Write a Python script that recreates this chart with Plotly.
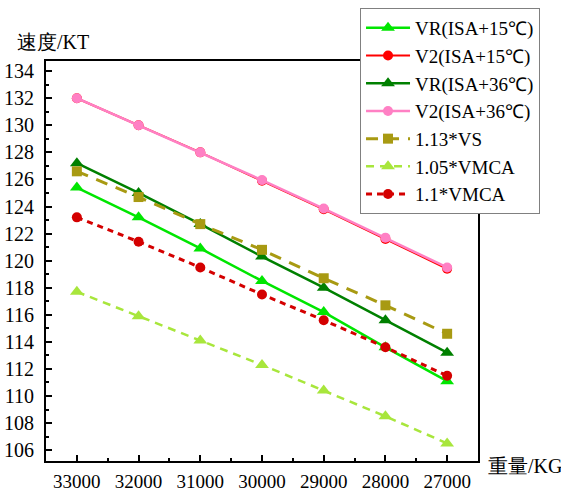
import plotly.graph_objects as go

weights = ["33000", "32000", "31000", "30000", "29000", "28000", "27000"]
vr_15 = [125.4, 123.2, 120.9, 118.5, 116.2, 113.6, 111.1]
v2_15 = [132.0, 130.0, 128.0, 125.9, 123.8, 121.6, 119.4]
vr_36 = [127.2, 125.0, 122.7, 120.3, 118.0, 115.6, 113.2]
v2_36 = [132.0, 130.0, 128.0, 125.95, 123.85, 121.7, 119.5]
vs_113 = [126.6, 124.7, 122.7, 120.8, 118.7, 116.7, 114.6]
vmca_105 = [117.7, 115.9, 114.1, 112.3, 110.4, 108.5, 106.5]
vmca_11 = [123.2, 121.4, 119.5, 117.5, 115.6, 113.6, 111.5]
y_ticks = list(range(106, 135, 2))

xs = list(range(len(weights)))
FONT = "Liberation Serif"

series = [
    ("VR(ISA+15℃)", vr_15, "#00e600", "solid", 2.5, "triangle-up", 12),
    ("V2(ISA+15℃)", v2_15, "#ff0000", "solid", 2, "circle", 10),
    ("VR(ISA+36℃)", vr_36, "#008000", "solid", 2.5, "triangle-up", 12),
    ("V2(ISA+36℃)", v2_36, "#ff80c4", "solid", 2.5, "circle", 10),
    ("1.13*VS", vs_113, "#a89a12", "12px,9px", 3, "square", 10),
    ("1.05*VMCA", vmca_105, "#a8e63c", "8px,6px", 2.5, "triangle-up", 12),
    ("1.1*VMCA", vmca_11, "#d40000", "6px,5px", 3, "circle", 10),
]

fig = go.Figure()
for name, vals, color, dash, lw, sym, ms in series:
    fig.add_trace(go.Scatter(
        x=xs, y=vals, name=name, mode="lines+markers",
        line=dict(color=color, width=lw, dash=dash),
        marker=dict(symbol=sym, size=ms, color=color),
    ))

fig.update_layout(
    width=561, height=496,
    margin=dict(l=46, r=83, t=61, b=35, autoexpand=False),
    plot_bgcolor="white", paper_bgcolor="white",
    font=dict(family=FONT, size=20, color="black"),
    showlegend=True,
    legend=dict(
        x=0.7269, y=1.1325, xanchor="left", yanchor="top",
        bordercolor="#808080", borderwidth=1, bgcolor="white",
        font=dict(family=FONT, size=19), tracegroupgap=0, itemwidth=44,
    ),
    xaxis=dict(
        range=[-0.5, 6.5], tickmode="array", tickvals=xs, ticktext=weights,
        showgrid=False, zeroline=False, showline=True, linecolor="black",
        linewidth=2, mirror=True, ticks="inside", ticklen=6, tickwidth=2,
        tickcolor="black", tickfont=dict(family=FONT, size=19), automargin=False,
        ticklabelstandoff=2,
        minor=dict(ticks="inside", ticklen=3, tickwidth=2, tickcolor="black",
                   dtick=0.5, tick0=-0.5),
    ),
    yaxis=dict(
        range=[105.2, 134.75], tickmode="array", tickvals=y_ticks,
        showgrid=False, zeroline=False, showline=True, linecolor="black",
        linewidth=2, mirror=True, ticks="inside", ticklen=6, tickwidth=2,
        tickcolor="black", tickfont=dict(family=FONT, size=20), automargin=False,
        ticklabelstandoff=6,
        minor=dict(ticks="inside", ticklen=3, tickwidth=2, tickcolor="black",
                   dtick=1, tick0=105),
    ),
    annotations=[
        dict(text="速度/KT", xref="paper", yref="paper", x=-0.0718, y=1.0475,
             xanchor="left", yanchor="middle", showarrow=False,
             font=dict(family=FONT, size=20)),
        dict(text="重量/KG", xref="paper", yref="paper", x=1.0185, y=-0.0125,
             xanchor="left", yanchor="middle", showarrow=False,
             font=dict(family=FONT, size=20)),
    ],
)

fig.write_html("out.html", config={"displayModeBar": False},
               post_script="document.body.style.margin='0';")
